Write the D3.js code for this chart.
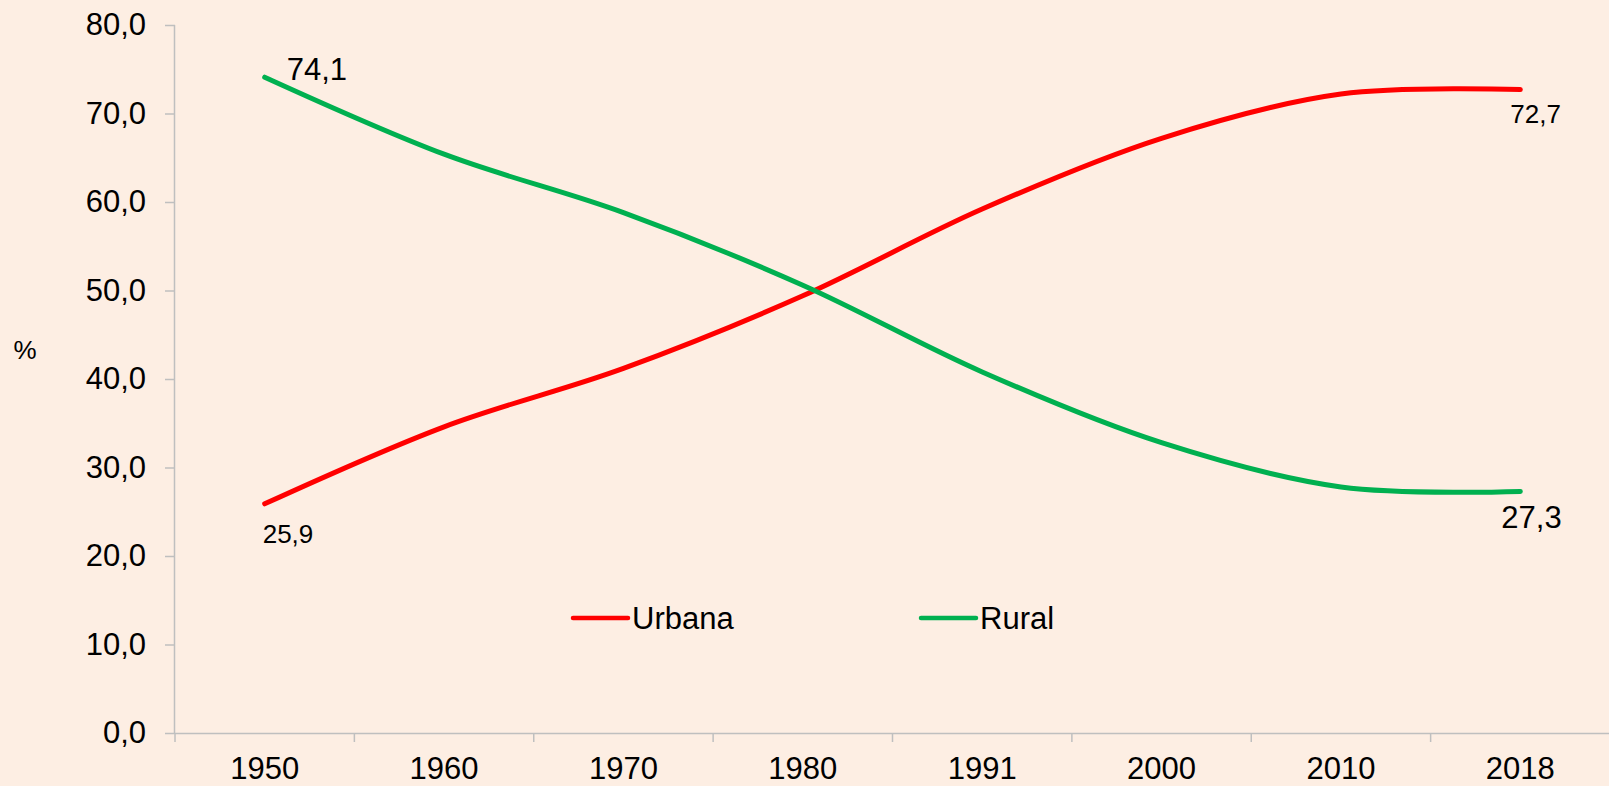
<!DOCTYPE html>
<html>
<head>
<meta charset="utf-8">
<script src="https://cdnjs.cloudflare.com/ajax/libs/d3/7.8.5/d3.min.js"></script>
<style>
  html, body { margin: 0; padding: 0; background: #fdeee3; }
  svg { display: block; font-family: "Liberation Sans", Arial, sans-serif; }
</style>
</head>
<body>
<script>
// data
const years = ['1950', '1960', '1970', '1980', '1991', '2000', '2010', '2018'];
const urbana = [25.9, 34.6, 41.2, 49.4, 59.2, 67.2, 72.2, 72.7];
const rural = [74.1, 65.4, 58.8, 50.6, 40.8, 32.8, 27.8, 27.3];
const yTicks = [0, 10, 20, 30, 40, 50, 60, 70, 80];

const seriesNames = ['Urbana', 'Rural'];
const colors = ['#ff0000', '#00b050'];

const svgWidth = 1609;
const svgHeight = 786;
const margin = { top: 25, right: -1, bottom: 53, left: 175 };
const chartWidth = svgWidth - margin.left - margin.right;
const chartHeight = svgHeight - margin.top - margin.bottom;

const svg = d3.select('body')
  .append('svg')
  .attr('width', svgWidth)
  .attr('height', svgHeight);

svg.append('rect')
  .attr('width', svgWidth)
  .attr('height', svgHeight)
  .attr('fill', '#fdeee3');

const chart = svg.append('g')
  .attr('transform', `translate(${margin.left},${margin.top})`);

const xScale = d3.scaleBand()
  .domain(years)
  .range([0, chartWidth])
  .padding(0);

const yScale = d3.scaleLinear()
  .domain([0, 80])
  .range([chartHeight, 0]);

const axisColor = '#bfbfbf';

// y axis
const yAxis = chart.append('g')
  .call(d3.axisLeft(yScale)
    .tickValues(yTicks)
    .tickSize(10)
    .tickPadding(19)
    .tickFormat(d => d3.format('.1f')(d).replace('.', ',')));

// x axis: labels in the middle of each band
const xAxis = chart.append('g')
  .attr('transform', `translate(0,${chartHeight})`)
  .call(d3.axisBottom(xScale).tickSize(0).tickPadding(24));

// x tick marks on the band edges
chart.append('g')
  .selectAll('line')
  .data(years)
  .enter()
  .append('line')
  .attr('x1', d => xScale(d))
  .attr('x2', d => xScale(d))
  .attr('y1', chartHeight)
  .attr('y2', chartHeight + 9)
  .attr('stroke', axisColor)
  .attr('stroke-width', 1.5);

[yAxis, xAxis].forEach(g => {
  g.selectAll('path, line').attr('stroke', axisColor).attr('stroke-width', 1.5);
  g.selectAll('text').style('font-size', '31px').attr('fill', '#000');
});
// plain axis lines without the end ticks
xAxis.select('.domain').attr('d', `M0,0.5H${chartWidth}`);
yAxis.select('.domain').attr('d', `M-0.5,0V${chartHeight}`);

// y axis title
svg.append('text')
  .attr('x', 25)
  .attr('y', 359)
  .attr('text-anchor', 'middle')
  .style('font-size', '26px')
  .text('%');

// lines
const line = d3.line()
  .x((d, i) => xScale(years[i]) + xScale.bandwidth() / 2)
  .y(d => yScale(d))
  .curve(d3.curveCardinal.tension(0));

[urbana, rural].forEach((values, i) => {
  chart.append('path')
    .datum(values)
    .attr('fill', 'none')
    .attr('stroke', colors[i])
    .attr('stroke-width', 5)
    .attr('stroke-linecap', 'round')
    .attr('d', line);
});

// data labels on first and last points
const cx = i => xScale(years[i]) + xScale.bandwidth() / 2;
const last = years.length - 1;
const labels = [
  { i: 0, v: rural[0], dx: 22, dy: 3, size: 31 },
  { i: 0, v: urbana[0], dx: -2, dy: 39, size: 26 },
  { i: last, v: urbana[last], dx: -10, dy: 33, size: 26 },
  { i: last, v: rural[last], dx: -19, dy: 37, size: 31 }
];

chart.selectAll('.data-label')
  .data(labels)
  .enter()
  .append('text')
  .attr('class', 'data-label')
  .attr('x', d => cx(d.i) + d.dx)
  .attr('y', d => yScale(d.v) + d.dy)
  .style('font-size', d => d.size + 'px')
  .text(d => d3.format('.1f')(d.v).replace('.', ','));

// legend
const legend = svg.append('g')
  .attr('transform', 'translate(573,618)');

const legendItems = legend.selectAll('.legend-item')
  .data(seriesNames)
  .enter()
  .append('g')
  .attr('class', 'legend-item')
  .attr('transform', (d, i) => `translate(${i * 348}, 0)`);

legendItems.append('line')
  .attr('x1', 0)
  .attr('x2', 55)
  .attr('stroke', (d, i) => colors[i])
  .attr('stroke-width', 4.5)
  .attr('stroke-linecap', 'round');

legendItems.append('text')
  .attr('x', 59)
  .attr('y', 10.5)
  .style('font-size', '31px')
  .text(d => d);
</script>
</body>
</html>
